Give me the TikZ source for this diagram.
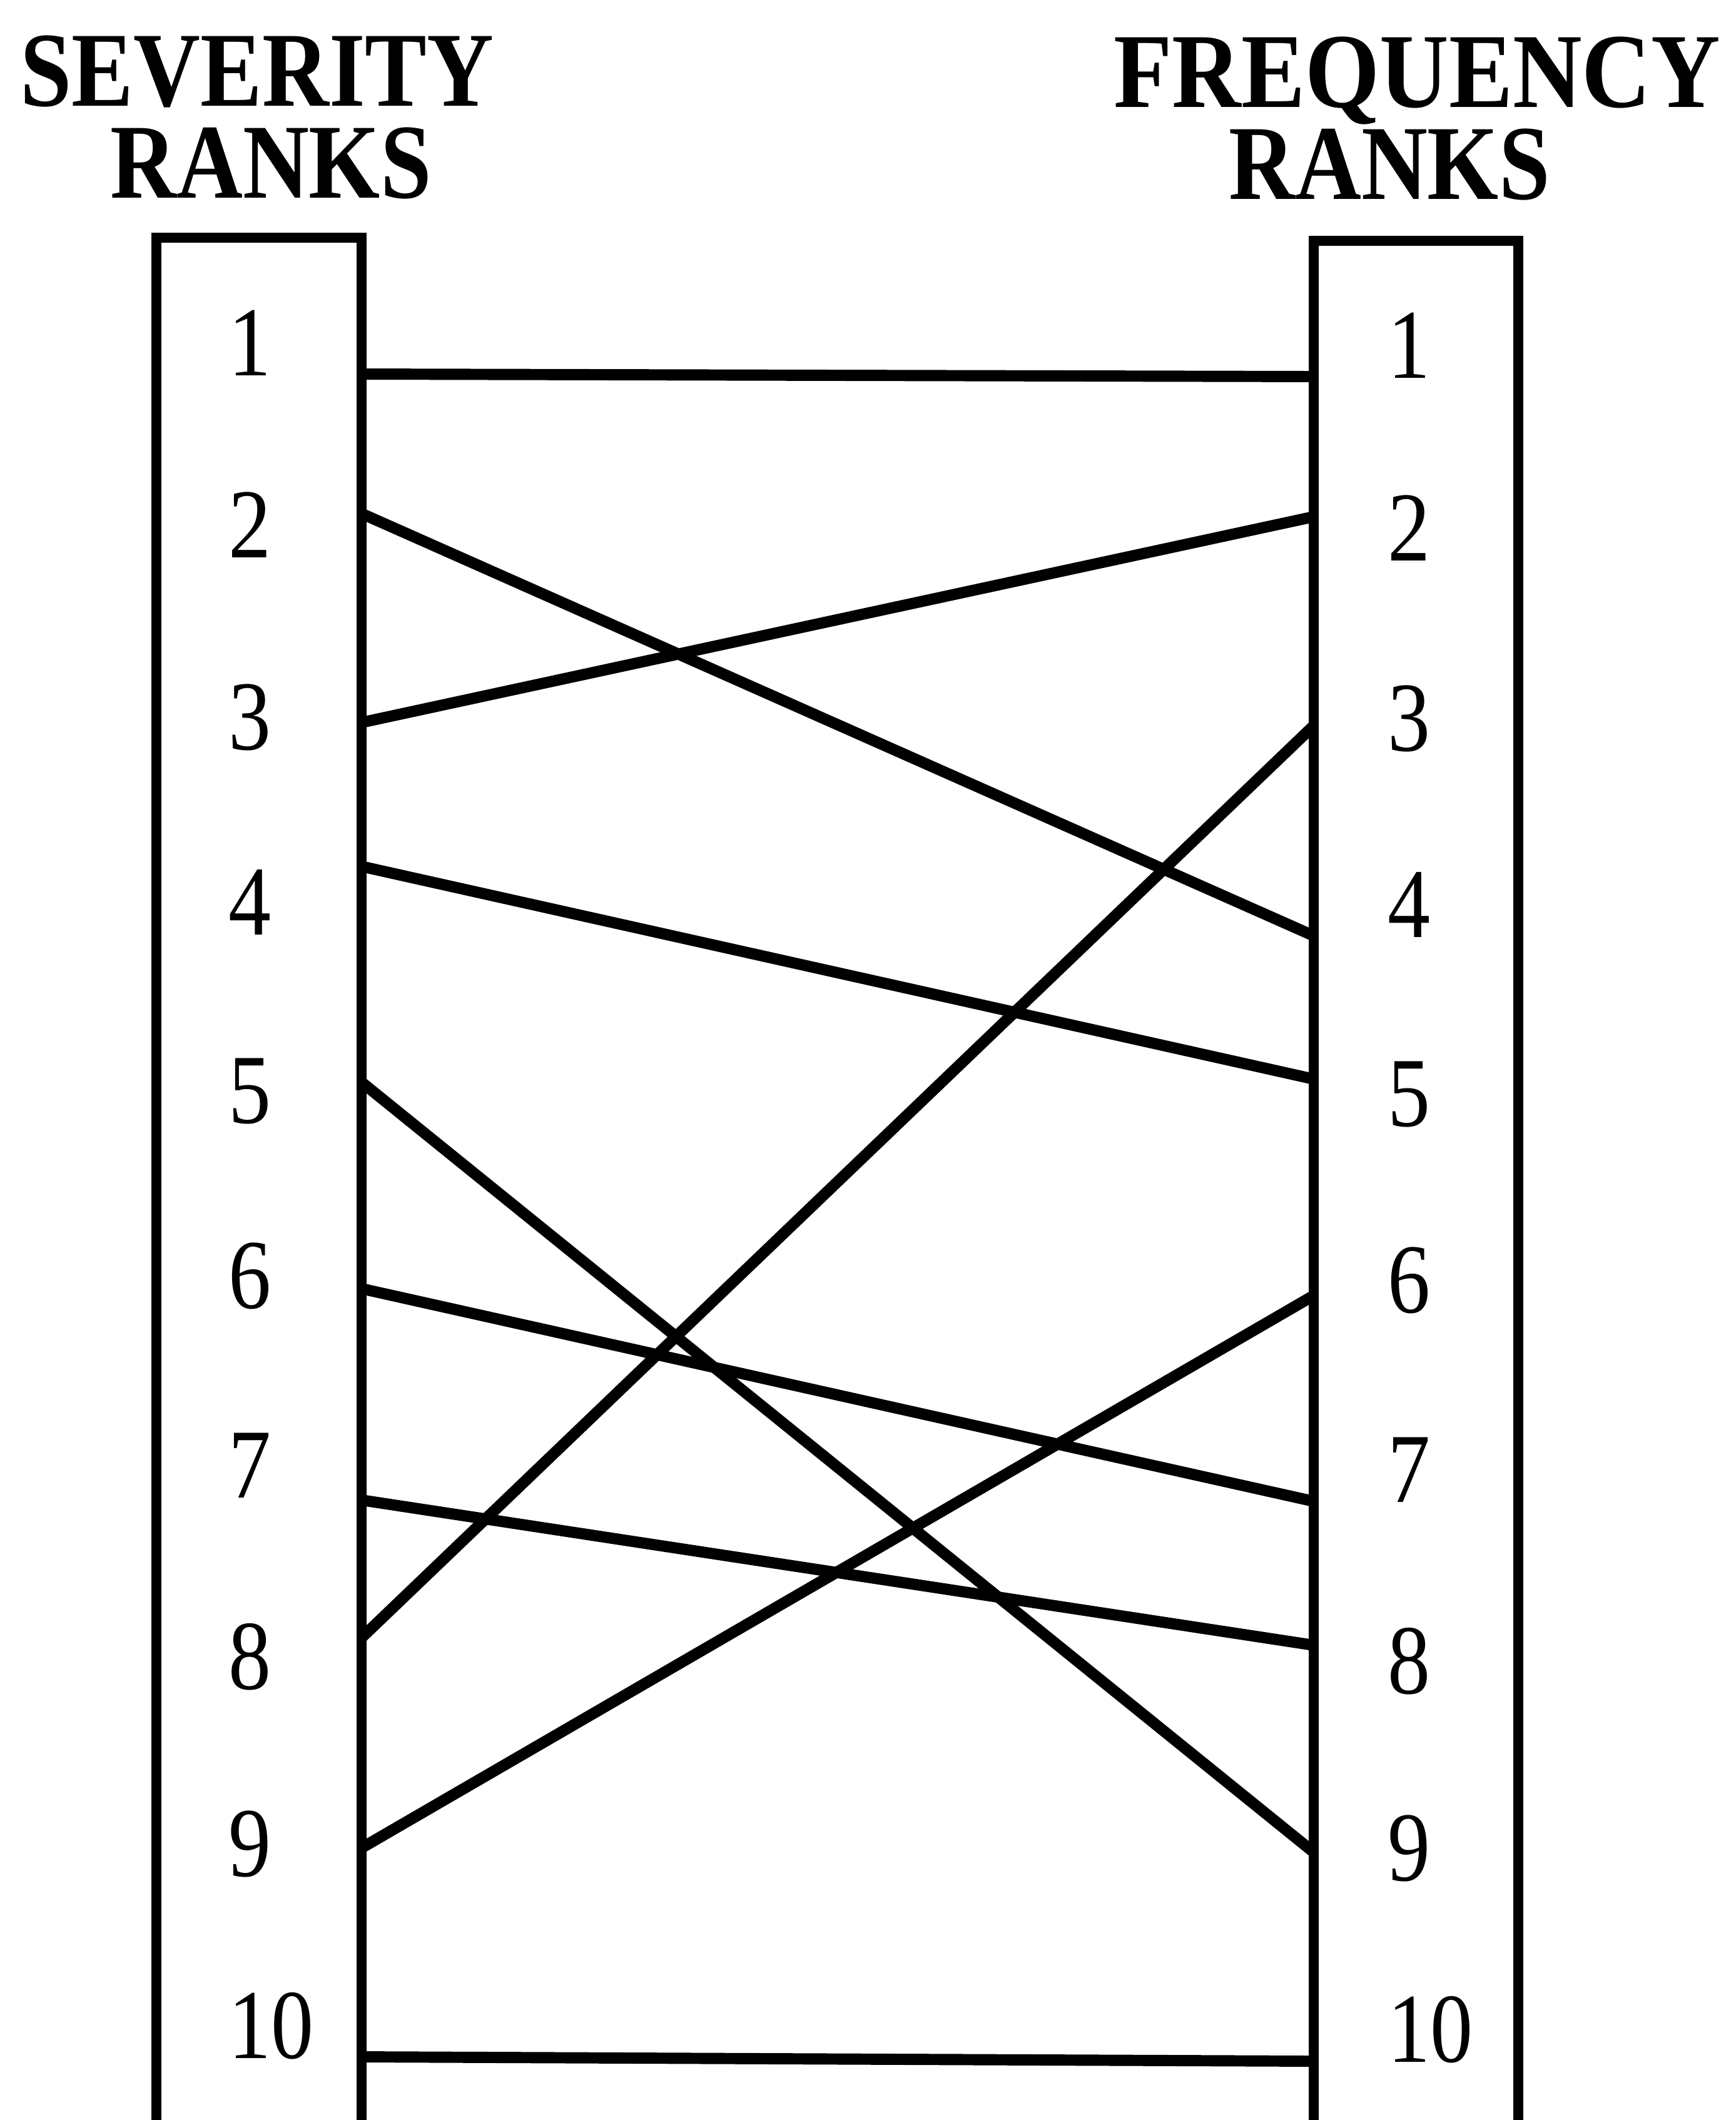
\documentclass[tikz,border=0pt]{standalone}
\usepackage{fontspec}
\setmainfont{Liberation Serif}
\usepackage{graphicx}
\newcommand{\headfont}{\fontsize{48.4}{42.1}\selectfont\bfseries\lineskiplimit=-100pt\relax}
\tikzset{
  frame/.style={line width=4.3pt, line cap=butt, line join=miter},
  link/.style={line width=5.1pt, line cap=butt},
  head/.style={font=\headfont, inner sep=0pt, anchor=base, align=center},
  rank/.style={font=\fontsize{45}{54}\selectfont, inner sep=0pt, anchor=base west},
}
\newcommand{\cond}[2][0.86]{\scalebox{#1}[1]{#2}}
\begin{document}
\begin{tikzpicture}
\useasboundingbox (0,0) rectangle (27.75,-33.89);
\fill[white] (0,0) rectangle (27.75,-33.89);

% headings (two lines each)
\node[head] (hs) at (4.11,-3.17)
  {\cond[0.87]{SEVERITY}\\\hspace*{0.44cm}\cond[0.862]{RANKS}};
\node[head] (hf) at (22.65,-3.19)
  {\cond[0.90]{FREQUENCY}\\\cond[0.862]{RANKS}\hspace*{0.88cm}};

% open-bottomed boxes
\draw[frame] (2.50,-33.89) -- (2.50,-3.80) -- (5.78,-3.80) -- (5.78,-33.89);
\draw[frame] (21.00,-33.89) -- (21.00,-3.85) -- (24.27,-3.85) -- (24.27,-33.89);

% left ranks
\node[rank] (L1) at (3.65,-6.00) {\cond{1}};
\node[rank] (L2) at (3.65,-8.91) {\cond{2}};
\node[rank] (L3) at (3.65,-11.98) {\cond{3}};
\node[rank] (L4) at (3.65,-14.94) {\cond{4}};
\node[rank] (L5) at (3.65,-17.95) {\cond{5}};
\node[rank] (L6) at (3.65,-20.91) {\cond{6}};
\node[rank] (L7) at (3.65,-23.94) {\cond{7}};
\node[rank] (L8) at (3.65,-27.00) {\cond{8}};
\node[rank] (L9) at (3.65,-29.99) {\cond{9}};
\node[rank] (L10) at (3.65,-32.90) {\cond{10}};

% right ranks
\node[rank] (R1) at (22.18,-6.04) {\cond{1}};
\node[rank] (R2) at (22.18,-8.96) {\cond{2}};
\node[rank] (R3) at (22.18,-12.00) {\cond{3}};
\node[rank] (R4) at (22.18,-14.98) {\cond{4}};
\node[rank] (R5) at (22.18,-18.00) {\cond{5}};
\node[rank] (R6) at (22.18,-20.98) {\cond{6}};
\node[rank] (R7) at (22.18,-24.01) {\cond{7}};
\node[rank] (R8) at (22.18,-27.07) {\cond{8}};
\node[rank] (R9) at (22.18,-30.06) {\cond{9}};
\node[rank] (R10) at (22.18,-32.96) {\cond{10}};

% connector end points on the box edges
\coordinate (a1) at (5.78,-5.98);
\coordinate (a2) at (5.78,-8.21);
\coordinate (a3) at (5.78,-11.55);
\coordinate (a4) at (5.78,-13.85);
\coordinate (a5) at (5.78,-17.30);
\coordinate (a6) at (5.78,-20.60);
\coordinate (a7) at (5.78,-23.98);
\coordinate (a8) at (5.78,-26.18);
\coordinate (a9) at (5.78,-29.54);
\coordinate (a10) at (5.78,-32.88);
\coordinate (b1) at (21.00,-6.02);
\coordinate (b2) at (21.00,-8.26);
\coordinate (b3) at (21.00,-11.60);
\coordinate (b4) at (21.00,-14.96);
\coordinate (b5) at (21.00,-17.25);
\coordinate (b6) at (21.00,-20.71);
\coordinate (b7) at (21.00,-24.00);
\coordinate (b8) at (21.00,-26.30);
\coordinate (b9) at (21.00,-29.61);
\coordinate (b10) at (21.00,-32.95);

% connectors
\draw[link] (a1) -- (b1);
\draw[link] (a2) -- (b4);
\draw[link] (a3) -- (b2);
\draw[link] (a4) -- (b5);
\draw[link] (a5) -- (b9);
\draw[link] (a6) -- (b7);
\draw[link] (a7) -- (b8);
\draw[link] (a8) -- (b3);
\draw[link] (a9) -- (b6);
\draw[link] (a10) -- (b10);
\end{tikzpicture}
\end{document}
